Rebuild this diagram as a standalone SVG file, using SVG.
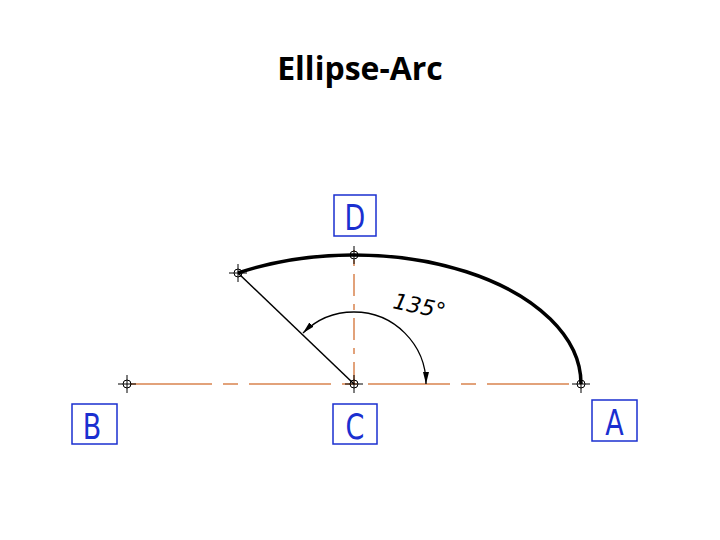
<svg xmlns="http://www.w3.org/2000/svg" width="720" height="540" viewBox="0 0 720 540">
<style>
.c{stroke:#d9844f;stroke-width:1.5;fill:none;stroke-dasharray:82 11 15 11}
.box{fill:none;stroke:#1a2fd0;stroke-width:1.5}
.lb{font-family:"DejaVu Sans",sans-serif;font-size:36px;fill:#1a2fd0;text-anchor:middle}
.pt{stroke:#000;stroke-width:1;fill:none}
</style>
<defs>
<g id="pt" class="pt"><circle r="4"/><path d="M-9 0H9M0-9V9"/></g>
<marker id="ar" viewBox="0 0 12 6" refX="12" refY="3" markerWidth="12" markerHeight="6" orient="auto" markerUnits="userSpaceOnUse"><path d="M0 0L12 3L0 6z" fill="#000"/></marker>
</defs>
<text x="360" y="80" font-family="Open Sans, sans-serif" font-weight="bold" font-size="32" text-anchor="middle">Ellipse-Arc</text>
<g id="connectors">
<path class="c" d="M130 384H581"/>
<path class="c" d="M354 384V250" style="stroke-dasharray:22 8 6 8"/>
<path d="M581 384A227 129 0 0 0 238 273" stroke="#000" stroke-width="3.5" fill="none"/>
<path d="M354 384L238 273" stroke="#000" stroke-width="1.5"/>
<path d="M354 312A72 72 0 0 1 426 384" stroke="#000" stroke-width="1.3" fill="none" marker-end="url(#ar)"/>
<path d="M354 312A72 72 0 0 0 303 333" stroke="#000" stroke-width="1.3" fill="none" marker-end="url(#ar)"/>
<text x="392" y="308" font-family="DejaVu Sans, sans-serif" font-size="22" font-style="italic" font-weight="300" transform="rotate(12 392 308)">135°</text>
</g>
<g id="A"><use href="#pt" x="581" y="384"/><rect class="box" x="592" y="400" width="45" height="41"/><text class="lb" transform="translate(614.5 435) scale(0.75 1)">A</text></g>
<g id="B"><use href="#pt" x="127" y="384"/><rect class="box" x="72" y="404" width="45" height="40"/><text class="lb" transform="translate(92 439) scale(0.75 1)">B</text></g>
<g id="C"><use href="#pt" x="354" y="384"/><rect class="box" x="333" y="404" width="44" height="40"/><text class="lb" transform="translate(355 439) scale(0.75 1)">C</text></g>
<g id="D"><use href="#pt" x="354" y="255"/><rect class="box" x="334" y="195" width="42" height="41"/><text class="lb" transform="translate(355 230) scale(0.75 1)">D</text></g>
<g id="E"><use href="#pt" x="238" y="273"/></g>
</svg>
